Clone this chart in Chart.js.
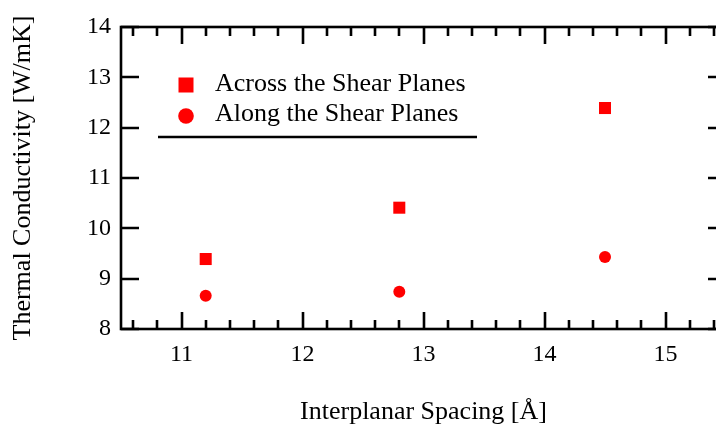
<!DOCTYPE html>
<html>
<head>
<meta charset="utf-8">
<script src="https://cdn.jsdelivr.net/npm/chart.js@4"></script>
<style>
  html, body { margin: 0; padding: 0; background: #fff; overflow: hidden; }
  #wrap { width: 740px; height: 428px; }
</style>
</head>
<body>
<div id="wrap"><canvas id="chart-canvas" width="740" height="428"></canvas></div>
<script>
// values
const spacing = [11.2, 12.8, 14.5];
const acrossPlanes = [9.39, 10.41, 12.39];
const alongPlanes = [8.66, 8.74, 9.43];
const xTickLabels = [11, 12, 13, 14, 15];
const yTickLabels = [8, 9, 10, 11, 12, 13, 14];

const SERIF = '"Liberation Serif", "Times New Roman", serif';
const RED = '#ff0000';

// frame, inward tick marks and the in-plot legend
const frameAndTicks = {
  id: 'frameAndTicks',
  afterDatasetsDraw(chart) {
    const { ctx, chartArea: a, scales: { x, y } } = chart;
    ctx.save();
    ctx.strokeStyle = '#000';
    ctx.lineWidth = 2.6;
    ctx.strokeRect(a.left, a.top, a.right - a.left, a.bottom - a.top);

    ctx.beginPath();
    for (let i = 53; i <= 77; i++) {
      const v = i / 5;
      const major = i % 5 === 0;
      const len = major ? 17 : 9;
      const px = Math.round(x.getPixelForValue(v));
      ctx.moveTo(px, a.bottom); ctx.lineTo(px, a.bottom - len);
      ctx.moveTo(px, a.top); ctx.lineTo(px, a.top + len);
    }
    yTickLabels.forEach(v => {
      const py = Math.round(y.getPixelForValue(v));
      ctx.moveTo(a.left, py); ctx.lineTo(a.left + 18, py);
      ctx.moveTo(a.right, py); ctx.lineTo(a.right - 18, py);
    });
    ctx.stroke();

    // legend
    const lx = a.left + 65, tx = a.left + 94;
    const rows = [a.top + 58, a.top + 88];
    ctx.font = '26px ' + SERIF;
    ctx.textBaseline = 'middle';
    ctx.textAlign = 'left';
    chart.data.datasets.forEach((ds, i) => {
      const cy = rows[i];
      ctx.fillStyle = ds.backgroundColor;
      if (ds.pointStyle === 'rect') {
        ctx.fillRect(lx - 7.5, cy - 7.5, 15, 15);
      } else {
        ctx.beginPath();
        ctx.arc(lx, cy + 1, 7.8, 0, Math.PI * 2);
        ctx.fill();
      }
      ctx.fillStyle = '#000';
      ctx.fillText(ds.label, tx, cy - 1);
    });
    ctx.beginPath();
    ctx.lineWidth = 2.7;
    ctx.moveTo(a.left + 37, a.top + 110);
    ctx.lineTo(a.left + 356, a.top + 110);
    ctx.stroke();
    ctx.restore();
  }
};

new Chart(
  document.getElementById('chart-canvas'),
  {
    type: 'scatter',
    plugins: [frameAndTicks],
    data: {
      datasets: [
        {
          label: 'Across the Shear Planes',
          data: spacing.map((s, i) => ({ x: s, y: acrossPlanes[i] })),
          pointStyle: 'rect',
          pointRadius: 8.5,
          borderWidth: 0,
          borderColor: RED,
          backgroundColor: RED,
        },
        {
          label: 'Along the Shear Planes',
          data: spacing.map((s, i) => ({ x: s, y: alongPlanes[i] })),
          pointStyle: 'circle',
          pointRadius: 6,
          borderWidth: 0,
          borderColor: RED,
          backgroundColor: RED,
        }
      ]
    },
    options: {
      responsive: false,
      animation: false,
      layout: { padding: { top: 27, right: 14, left: 0, bottom: 0 } },
      plugins: {
        legend: { display: false },
        tooltip: { enabled: false },
      },
      scales: {
        x: {
          type: 'linear',
          min: 10.5,
          max: 15.5,
          afterBuildTicks: function(axis) {
            axis.ticks = xTickLabels.map(v => ({ value: v }));
          },
          afterFit: function(axis) { axis.height = 99; },
          grid: { display: false, drawTicks: false },
          border: { display: false },
          ticks: {
            color: '#000',
            padding: 11,
            maxRotation: 0,
            font: { family: SERIF, size: 24 },
            callback: v => String(v),
          },
          title: {
            display: true,
            text: 'Interplanar Spacing [Å]',
            color: '#000',
            padding: { top: 0, bottom: 0 },
            font: { family: SERIF, size: 26 },
          }
        },
        y: {
          type: 'linear',
          min: 8,
          max: 14,
          afterBuildTicks: function(axis) {
            axis.ticks = yTickLabels.map(v => ({ value: v }));
          },
          afterFit: function(axis) { axis.width = 121; },
          grid: { display: false, drawTicks: false },
          border: { display: false },
          ticks: {
            color: '#000',
            padding: 10,
            font: { family: SERIF, size: 24 },
            callback: v => String(v),
          },
          title: {
            display: true,
            text: 'Thermal Conductivity [W/mK]',
            color: '#000',
            padding: { top: 8, bottom: 0 },
            font: { family: SERIF, size: 26 },
          }
        }
      }
    }
  }
);
</script>
</body>
</html>
